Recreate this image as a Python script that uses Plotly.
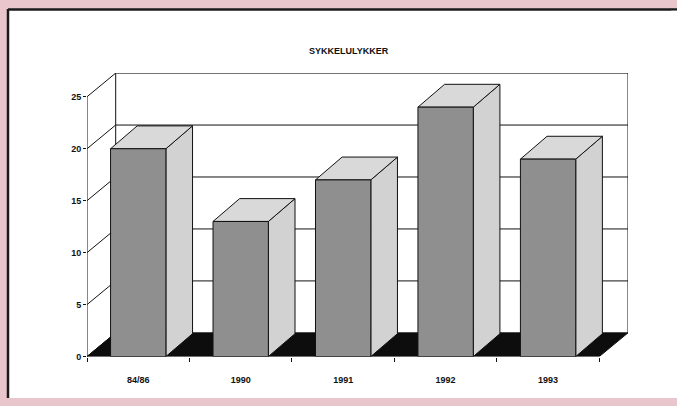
import plotly.graph_objects as go

# ---- data ----
categories = ["84/86", "1990", "1991", "1992", "1993"]
values = [20, 13, 17, 24, 19]
y_ticks = [0, 5, 10, 15, 20, 25]
title_text = "SYKKELULYKKER"

# ---- 3D geometry (data units) ----
DX = 0.28      # depth offset in x units (one category slot = 1)
DY = 2.28      # depth offset in value units
BDX = 0.26     # bar depth offsets
BDY = 2.2
W = 0.54       # bar front width
x0, x1 = -0.5, len(categories) - 0.5
ymax = max(y_ticks)

FRONT = "#8f8f8f"
SIDE = "#d2d2d2"
TOP = "#d9d9d9"
EDGE = "#111111"

fig = go.Figure()

# back wall + gridlines
gx, gy = [], []
for t in y_ticks[1:]:
    gx += [x0 + DX, x1 + DX, None]
    gy += [t + DY, t + DY, None]
gx += [x0 + DX, x0 + DX, None, x1 + DX, x1 + DX, None]
gy += [DY, ymax + DY, None, DY, ymax + DY, None]
# left side diagonals
for t in y_ticks:
    gx += [x0, x0 + DX, None]
    gy += [t, t + DY, None]
# front axis line
gx += [x0, x0, None]
gy += [0, ymax, None]
fig.add_trace(go.Scatter(x=gx, y=gy, mode="lines",
                         line=dict(color=EDGE, width=1), hoverinfo="skip"))

# floor (black)
fig.add_trace(go.Scatter(x=[x0, x1, x1 + DX, x0 + DX, x0],
                         y=[0, 0, DY, DY, 0], mode="lines", fill="toself",
                         fillcolor="#0d0d0d", line=dict(color=EDGE, width=1),
                         hoverinfo="skip"))

# bar faces (front, side, top) per bar
xs = list(range(len(categories)))
fx, fy, sx, sy, tx, ty = [], [], [], [], [], []
for i, v in zip(xs, values):
    r = i + W / 2
    l = i - W / 2
    fx += [l, r, r, l, l, None]
    fy += [0, 0, v, v, 0, None]
    sx += [r, r + BDX, r + BDX, r, r, None]
    sy += [0, BDY, v + BDY, v, 0, None]
    tx += [l, r, r + BDX, l + BDX, l, None]
    ty += [v, v, v + BDY, v + BDY, v, None]
for X, Y, C in [(sx, sy, SIDE), (tx, ty, TOP), (fx, fy, FRONT)]:
    fig.add_trace(go.Scatter(x=X, y=Y, mode="lines", fill="toself", fillcolor=C,
                             line=dict(color=EDGE, width=1), hoverinfo="skip"))

W_PX, H_PX = 677, 406
fig.update_layout(
    width=W_PX, height=H_PX,
    margin=dict(l=0, r=0, t=0, b=0),
    paper_bgcolor="#e8c6cb",
    plot_bgcolor="rgba(0,0,0,0)",
    showlegend=False,
    font=dict(family="Liberation Sans, Arial, sans-serif", color="#111111"),
    shapes=[
        dict(type="rect", xref="paper", yref="paper", layer="below",
             x0=8 / W_PX, x1=1.05, y0=1 - 403 / H_PX, y1=1 - 9 / H_PX,
             fillcolor="#ffffff", line=dict(width=0, color="rgba(0,0,0,0)")),
        dict(type="line", xref="paper", yref="paper", layer="below",
             x0=8 / W_PX, x1=1.05, y0=1 - 9.5 / H_PX, y1=1 - 9.5 / H_PX,
             line=dict(color="#1a1a1a", width=2.5)),
        dict(type="line", xref="paper", yref="paper", layer="below",
             x0=8 / W_PX, x1=8 / W_PX, y0=1 - 403 / H_PX, y1=1 - 9 / H_PX,
             line=dict(color="#1a1a1a", width=2.5)),
        dict(type="rect", xref="paper", yref="paper", layer="above",
             x0=1 - 6 / W_PX, x1=1.0, y0=1 - 402 / H_PX, y1=1 - 11 / H_PX,
             fillcolor="#ffffff", line=dict(width=0, color="rgba(0,0,0,0)")),
    ],
    annotations=[dict(text=title_text, xref="paper", yref="paper",
                      x=349 / W_PX, y=1 - 52 / H_PX, xanchor="center",
                      yanchor="middle", showarrow=False,
                      font=dict(size=9, weight="bold", color="#111111"))],
    xaxis=dict(domain=[87 / W_PX, 628 / W_PX], range=[x0, x1 + DX],
               tickvals=xs, ticktext=categories, ticks="",
               tickfont=dict(size=9, weight="bold"), ticklabelstandoff=16,
               showgrid=False, zeroline=False, showline=False,
               minor=dict(tickvals=[x0 + k for k in range(len(categories) + 1)],
                          ticks="outside", ticklen=4, tickcolor=EDGE, showgrid=False)),
    yaxis=dict(domain=[1 - 361 / H_PX, 1 - 74 / H_PX], range=[0, ymax + DY],
               tickvals=y_ticks, ticks="outside", ticklen=3, tickcolor=EDGE,
               tickfont=dict(size=9, weight="bold"), showgrid=False,
               zeroline=False, showline=False),
)

fig.write_html("out.html")
